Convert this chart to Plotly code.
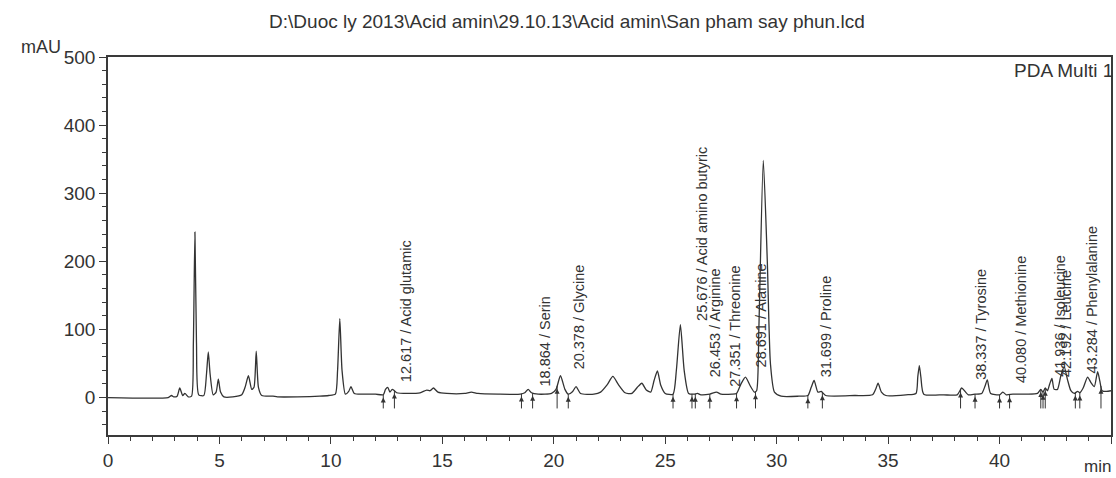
import numpy as np
import plotly.graph_objects as go

TITLE = "D:\\Duoc ly 2013\\Acid amin\\29.10.13\\Acid amin\\San pham say phun.lcd"

# chromatogram (time in min, signal in mAU)
time_min = [0.0, 2.7, 2.85, 2.95, 3.1, 3.22, 3.35, 3.45, 3.6,
            3.75, 3.83, 3.9, 3.97, 4.07, 4.3, 4.42, 4.5, 4.58, 4.72,
            4.85, 4.95, 5.05, 5.2, 5.6, 6.0, 6.15, 6.3, 6.45, 6.55, 6.65, 6.75, 6.9,
            7.4, 7.6, 8.5, 9.5, 9.9, 10.2, 10.3, 10.4, 10.5, 10.65, 10.8, 10.9, 11.05, 11.4, 12.0,
            12.35, 12.45, 12.55, 12.65, 12.75, 12.85, 12.95, 13.5, 14.0, 14.3, 14.45, 14.6, 14.8,
            15.2, 16.0, 16.3, 16.6, 17.5, 18.5,
            18.7, 18.85, 19.0, 19.3, 19.9, 20.1, 20.3, 20.5, 20.65, 20.85, 21.0, 21.2,
            21.8, 22.1, 22.4, 22.65, 22.9, 23.2, 23.5, 23.75, 23.95, 24.15, 24.35, 24.5,
            24.65, 24.8, 25.0, 25.35, 25.5, 25.68, 25.85, 26.05, 26.3, 26.45, 26.6, 27.0,
            27.3, 27.5, 28.0, 28.2, 28.4, 28.6, 28.8, 29.0, 29.1, 29.2, 29.4, 29.58, 29.72,
            29.9, 30.2, 31.0, 31.4, 31.55, 31.68, 31.85, 32.0, 32.2, 33.5, 34.3, 34.45,
            34.55, 34.7, 34.9, 35.8, 36.25, 36.33, 36.4, 36.47, 36.6, 37.5, 38.1, 38.3,
            38.45, 38.6, 38.9, 39.2, 39.35, 39.45, 39.6, 40.0, 40.15, 40.3, 40.6, 41.2,
            41.7, 41.85, 41.95, 42.05, 42.15, 42.25, 42.35, 42.45, 42.6, 42.75, 42.9,
            43.05, 43.2, 43.35, 43.5, 43.6, 43.75, 43.95, 44.1, 44.25, 44.4, 44.5, 44.6,
            44.8, 45.0]
signal_mau = [0, 0, 3, 1, 2, 14, 3, 6, 1,
              2, 80, 243, 80, 4, 3, 35, 67, 35, 4,
              8, 27, 8, 1, 1, 4, 15, 32, 12, 15, 68, 15, 3,
              2, 1, 1, 2, 3, 5, 40, 116, 40, 5, 9, 16, 6, 5, 5,
              4, 12, 15, 8, 12, 10, 7, 6, 7, 11, 10, 14, 8,
              6, 6, 8, 6, 5, 5,
              7, 12, 7, 5, 6, 12, 32, 12, 5, 9, 16, 6,
              5, 8, 19, 31, 19, 7, 6, 15, 21, 11, 8, 25,
              39, 18, 6, 5, 40, 107, 40, 6, 5, 6, 4, 5,
              8, 5, 5, 6, 20, 30, 18, 8, 10, 100, 348, 200, 50,
              8, 2, 2, 3, 15, 25, 8, 9, 3, 3, 4, 13,
              21, 8, 3, 4, 6, 30, 47, 30, 5, 4, 4, 14,
              9, 4, 5, 6, 17, 26, 6, 4, 8, 4, 5, 5,
              6, 12, 8, 14, 10, 20, 28, 12, 12, 32, 45,
              26, 10, 6, 9, 7, 14, 30, 22, 16, 38, 24, 10,
              9, 10]

# integration marks (min)
mark_times = [12.35, 12.85, 18.55, 19.05, 20.15, 20.65, 25.35, 26.2, 26.35, 27.0,
              28.2, 29.05, 31.4, 32.05, 38.25, 38.9, 40.0, 40.45, 41.85, 41.95,
              42.05, 43.4, 43.6, 44.55]

# identified peaks
peak_times = [12.617, 18.864, 20.378, 25.676, 26.453, 27.351, 28.691, 31.699,
              38.337, 40.080, 41.936, 42.192, 43.284]
peak_names = ["Acid glutamic", "Serin", "Glycine", "Acid amino butyric", "Arginine",
              "Threonine", "Alanine", "Proline", "Tyrosine", "Methionine",
              "Isoleucine", "Leucine", "Phenylalanine"]
label_base = [20, 14, 38, 110, 27, 13, 42, 26, 23, 18, 27, 27, 32]
label_dx = [0, 0, 0, 4, 0, 1, -4, -6, 2, 2, 0, 0, 2]

AX = "#3a3a3a"
TXT = "#333333"
FONT = "Liberation Sans, Arial, sans-serif"

fig = go.Figure()
fig.add_trace(go.Scatter(x=time_min, y=signal_mau, mode="lines",
                         line=dict(color="#333333", width=1.3, shape="spline", smoothing=0.6),
                         hoverinfo="skip", showlegend=False))

# integration marks: short vertical lines from below the baseline up to the trace
mx, my = [], []
base_at = np.interp(mark_times, time_min, signal_mau)
for t, b in zip(mark_times, base_at):
    mx += [t, t, None]
    my += [-16, b, None]
fig.add_trace(go.Scatter(x=mx, y=my, mode="lines", line=dict(color="#333333", width=1),
                         hoverinfo="skip", showlegend=False))
fig.add_trace(go.Scatter(x=mark_times, y=[b - 4 for b in base_at], mode="markers",
                         marker=dict(symbol="arrow-up", size=5, color="#333333"),
                         hoverinfo="skip", showlegend=False))

annotations = []
for t, n, yb, dx in zip(peak_times, peak_names, label_base, label_dx):
    annotations.append(dict(x=t, y=yb, xref="x", yref="y", text=f"{t:.3f} / {n}",
                            textangle=-90, showarrow=False, xanchor="center", yanchor="bottom",
                            xshift=17 + dx, font=dict(family=FONT, size=14.5, color=TXT)))
annotations += [
    dict(x=0, y=500, xref="paper", yref="y", text="mAU", showarrow=False,
         xanchor="right", yanchor="middle", xshift=-45, yshift=10,
         font=dict(family=FONT, size=18, color=TXT)),
    dict(x=1, y=1, xref="paper", yref="paper", text="PDA Multi 1", showarrow=False,
         xanchor="right", yanchor="top", xshift=4, yshift=-1,
         font=dict(family=FONT, size=19, color=TXT)),
    dict(x=1, y=0, xref="paper", yref="paper", text="min", showarrow=False,
         xanchor="right", yanchor="top", xshift=2, yshift=-20,
         font=dict(family=FONT, size=17, color=TXT)),
]

fig.update_layout(
    width=1116, height=478,
    margin=dict(l=108, r=3, t=57, b=43),
    paper_bgcolor="white", plot_bgcolor="white",
    title=dict(text=TITLE, x=0.508, xref="container", xanchor="center",
               y=1 - 21 / 478, yref="container", yanchor="middle",
               font=dict(family=FONT, size=19, color=TXT)),
    annotations=annotations,
    xaxis=dict(range=[0, 45], tickvals=[0, 5, 10, 15, 20, 25, 30, 35, 40, 45],
               ticks="outside", ticklen=7, tickwidth=1.2, tickcolor=AX,
               minor=dict(dtick=1, ticks="outside", ticklen=4, tickcolor=AX),
               showline=True, linecolor=AX, linewidth=1.5, mirror=True,
               showgrid=False, zeroline=False,
               tickfont=dict(family=FONT, size=19, color=TXT)),
    yaxis=dict(range=[-55, 500], tickvals=[0, 100, 200, 300, 400, 500],
               ticks="outside", ticklen=7, tickwidth=1.2, tickcolor=AX,
               minor=dict(dtick=20, tick0=0, ticks="outside", ticklen=4, tickcolor=AX),
               showline=True, linecolor=AX, linewidth=1.5, mirror=True,
               showgrid=False, zeroline=False,
               tickfont=dict(family=FONT, size=19, color=TXT)),
)

fig.write_html("out.html")
